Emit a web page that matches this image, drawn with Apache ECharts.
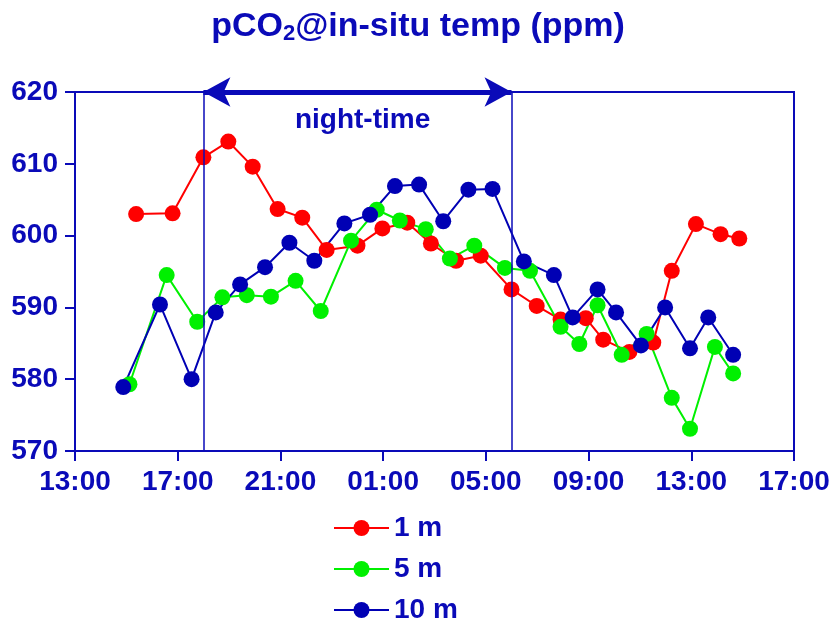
<!DOCTYPE html>
<html>
<head>
<meta charset="utf-8">
<script src="https://cdn.jsdelivr.net/npm/echarts@6/dist/echarts.min.js"></script>
<style>
  html, body { margin: 0; padding: 0; background: #fff; }
  #chart { width: 836px; height: 627px; }
</style>
</head>
<body>
<div id="chart"></div>
<script>
// hours since 13:00 on day one
const hours1m = [2.38, 3.80, 5.0, 5.97, 6.92, 7.89, 8.85, 9.80, 11.0, 11.97, 12.94, 13.86, 14.84, 15.80, 17.0, 17.98, 18.91, 19.89, 20.57, 21.59, 22.52, 23.24, 24.18, 25.14, 25.87];
const values1m = [603.0, 603.1, 610.9, 613.1, 609.6, 603.7, 602.5, 598.0, 598.6, 601.0, 601.8, 598.9, 596.5, 597.2, 592.5, 590.2, 588.3, 588.5, 585.5, 583.8, 585.1, 595.1, 601.6, 600.2, 599.6];

const hours5m = [2.12, 3.57, 4.76, 5.74, 6.69, 7.63, 8.59, 9.57, 10.75, 11.75, 12.65, 13.66, 14.60, 15.55, 16.74, 17.72, 18.91, 19.64, 20.35, 21.29, 22.26, 23.24, 23.95, 24.92, 25.63];
const values5m = [579.3, 594.5, 588.0, 591.4, 591.7, 591.5, 593.7, 589.5, 599.3, 603.6, 602.1, 600.9, 596.8, 598.6, 595.5, 595.1, 587.3, 584.9, 590.3, 583.4, 586.3, 577.4, 573.1, 584.5, 580.8];

const hours10m = [1.88, 3.31, 4.54, 5.48, 6.43, 7.40, 8.35, 9.32, 10.49, 11.49, 12.46, 13.40, 14.34, 15.32, 16.26, 17.48, 18.65, 19.38, 20.35, 21.07, 22.04, 22.98, 23.95, 24.66, 25.63];
const values10m = [578.9, 590.4, 580.0, 589.3, 593.2, 595.6, 599.0, 596.5, 601.7, 602.9, 606.9, 607.1, 602.0, 606.4, 606.5, 596.4, 594.5, 588.6, 592.5, 589.3, 584.7, 590.0, 584.3, 588.6, 583.4];

// night-time window (hours since 13:00): 18:00 -> 06:00
const nightStart = 5;
const nightEnd = 17;

const ink = "#0a0ab8";
const font = "Liberation Sans, Arial, sans-serif";

const pairs = (xs, ys) => xs.map((x, i) => [x, ys[i]]);

const chart = echarts.init(document.getElementById("chart"));

const makeSeries = (name, color, xs, ys) => ({
  name,
  type: "line",
  data: pairs(xs, ys),
  symbol: "circle",
  symbolSize: 16,
  itemStyle: { color },
  lineStyle: { color, width: 2 },
  z: 3,
});

const series = [
  makeSeries("1 m", "#ff0000", hours1m, values1m),
  makeSeries("5 m", "#00f000", hours5m, values5m),
  makeSeries("10 m", "#0000b4", hours10m, values10m),
];

// night-time markers on the first series
series[0].markLine = {
  silent: true,
  animation: false,
  symbol: "none",
  label: { show: false },
  lineStyle: { color: ink, width: 1.5, type: "solid" },
  data: [
    [{ coord: [nightStart, 570] }, { coord: [nightStart, 620] }],
    [{ coord: [nightEnd, 570] }, { coord: [nightEnd, 620] }],
    [
      { coord: [nightStart, 620], symbol: "arrow", symbolSize: [22, 27], lineStyle: { width: 5 } },
      { coord: [nightEnd, 620], symbol: "arrow", symbolSize: [22, 27], lineStyle: { width: 5 } },
    ],
  ],
};
series[0].markPoint = {
  silent: true,
  animation: false,
  symbol: "circle",
  symbolSize: 0,
  label: {
    show: true,
    formatter: "night-time",
    color: ink,
    fontSize: 28,
    fontWeight: "bold",
    fontFamily: font,
  },
  data: [{ coord: [11.2, 616.1] }],
};

const option = {
  animation: false,
  textStyle: { fontFamily: font },
  title: {
    text: "pCO{sub|2}@in-situ temp (ppm)",
    left: "center",
    top: 4,
    textStyle: {
      color: ink,
      fontSize: 34,
      fontWeight: "bold",
      fontFamily: font,
      rich: {
        sub: {
          color: ink,
          fontSize: 22,
          fontWeight: "bold",
          fontFamily: font,
          verticalAlign: "bottom",
          padding: [14, 0, 0, 0],
        },
      },
    },
  },
  grid: {
    left: 75,
    right: 42,
    top: 92,
    bottom: 176,
    show: true,
    borderColor: ink,
    borderWidth: 2,
  },
  legend: {
    orient: "vertical",
    left: 333,
    top: 514,
    height: 200,
    padding: 0,
    itemWidth: 55,
    itemHeight: 20,
    itemGap: 13,
    textStyle: {
      color: ink,
      fontSize: 28,
      fontWeight: "bold",
      fontFamily: font,
      lineHeight: 28,
    },
  },
  xAxis: {
    type: "value",
    min: 0,
    max: 28,
    interval: 4,
    axisLine: { lineStyle: { color: ink, width: 2 } },
    axisTick: { show: true, length: 10, lineStyle: { color: ink, width: 2 } },
    splitLine: { show: false },
    axisLabel: {
      color: ink,
      fontSize: 28,
      fontWeight: "bold",
      margin: 17,
      formatter: (v) => String((13 + v) % 24).padStart(2, "0") + ":00",
    },
  },
  yAxis: {
    type: "value",
    min: 570,
    max: 620,
    interval: 10,
    axisLine: { show: true, lineStyle: { color: ink, width: 2 } },
    axisTick: { show: true, length: 10, lineStyle: { color: ink, width: 2 } },
    splitLine: { show: false },
    axisLabel: {
      color: ink,
      fontSize: 28,
      fontWeight: "bold",
      margin: 17,
    },
  },
  series,
};

chart.setOption(option);
</script>
</body>
</html>
